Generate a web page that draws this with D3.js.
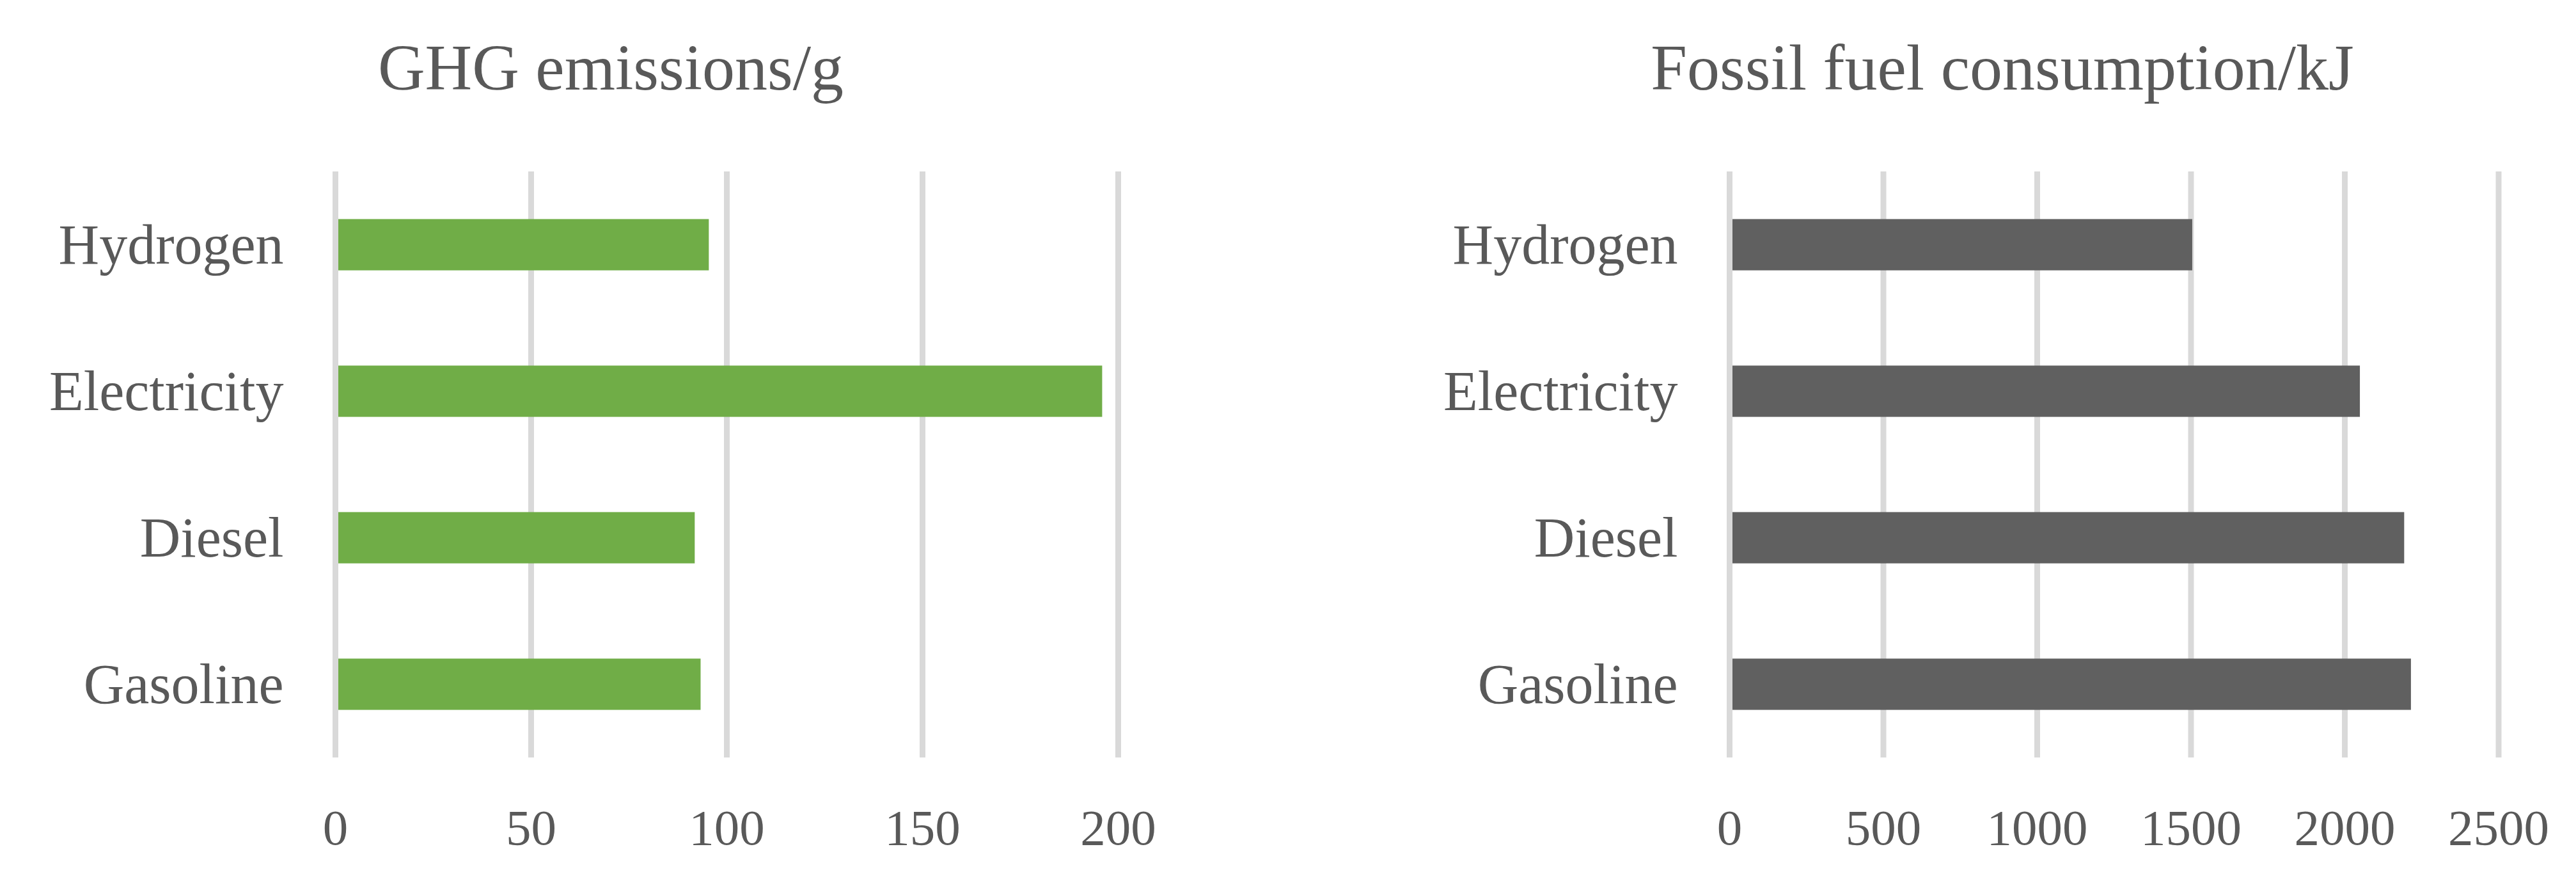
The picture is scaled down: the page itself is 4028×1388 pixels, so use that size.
<!DOCTYPE html>
<html>
<head>
<meta charset="utf-8">
<script src="https://cdn.jsdelivr.net/npm/d3@7"></script>
<style>
  body { margin: 0; background: #fff; }
  svg text { font-family: "Liberation Serif", "DejaVu Serif", serif; fill: #595959; }
</style>
</head>
<body>
<svg width="4028" height="1388"></svg>
<script>
// categories, top to bottom
const fuels = ["Hydrogen", "Electricity", "Diesel", "Gasoline"];

// GHG emissions (g)
const ghgValues = [95.4, 195.9, 91.8, 93.3];
const ghgTicks = [0, 50, 100, 150, 200];

// fossil fuel consumption (kJ)
const fossilValues = [1504, 2049, 2193, 2215];
const fossilTicks = [0, 500, 1000, 1500, 2000, 2500];

const svg = d3.select("svg");

function drawPanel(o) {
    const g = svg.append("g");

    const x = d3.scaleLinear()
        .domain([0, d3.max(o.ticks)])
        .range([o.x0, o.x1]);

    const y = d3.scaleBand()
        .domain(fuels)
        .range([268, 1184])
        .paddingInner(0.65)
        .paddingOuter(0.325);

    // titre
    g.append("text")
        .attr("x", o.titleX)
        .attr("y", 140)
        .attr("text-anchor", "middle")
        .attr("font-size", "102px")
        .text(o.title);

    // grille verticale
    g.selectAll("line.grid")
        .data(o.ticks)
        .join("line")
        .attr("class", "grid")
        .attr("x1", d => x(d))
        .attr("x2", d => x(d))
        .attr("y1", 268)
        .attr("y2", 1184)
        .attr("stroke", "#d9d9d9")
        .attr("stroke-width", 9);

    // barres
    g.selectAll("rect")
        .data(o.values)
        .join("rect")
        .attr("x", x(0) + 4.5)
        .attr("y", (d, i) => y(fuels[i]))
        .attr("width", d => x(d) - x(0) - 4.5)
        .attr("height", y.bandwidth())
        .attr("fill", o.color);

    // étiquettes des catégories
    g.selectAll("text.cat")
        .data(fuels)
        .join("text")
        .attr("class", "cat")
        .attr("x", x(0) - 81)
        .attr("y", d => y(d) + y.bandwidth() / 2)
        .attr("dy", "0.33em")
        .attr("text-anchor", "end")
        .attr("font-size", "88px")
        .text(d => d);

    // étiquettes de l'axe x
    g.selectAll("text.tick")
        .data(o.ticks)
        .join("text")
        .attr("class", "tick")
        .attr("x", d => x(d))
        .attr("y", 1320)
        .attr("text-anchor", "middle")
        .attr("font-size", "79px")
        .text(d => d);
}

drawPanel({
    title: "GHG emissions/g",
    titleX: 955,
    values: ghgValues,
    ticks: ghgTicks,
    x0: 524.5,
    x1: 1748.5,
    color: "#70ad47"
});

drawPanel({
    title: "Fossil fuel consumption/kJ",
    titleX: 3131,
    values: fossilValues,
    ticks: fossilTicks,
    x0: 2704.5,
    x1: 3907,
    color: "#606060"
});
</script>
</body>
</html>
